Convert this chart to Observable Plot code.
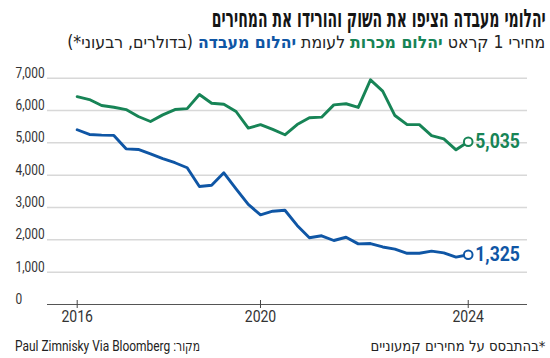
<!DOCTYPE html>
<html><head><meta charset="utf-8">
<script src="https://cdn.jsdelivr.net/npm/d3@7"></script>
<script src="https://cdn.jsdelivr.net/npm/@observablehq/plot@0.6"></script>
<style>
html,body{margin:0;padding:0;background:#fff;}
body{width:550px;height:358px;overflow:hidden;position:relative;font-family:Roboto,"DejaVu Sans Condensed","DejaVu Sans",sans-serif;color:#222;}
.fit{position:absolute;white-space:nowrap;line-height:1;direction:rtl;}
#title{right:4px;top:6px;font-family:"DejaVu Sans","DejaVu Sans Condensed",sans-serif;font-weight:bold;font-size:25px;color:#141414;transform-origin:right center;}
#subtitle{right:5px;top:34px;font-family:"DejaVu Sans Condensed","DejaVu Sans",sans-serif;font-size:17px;color:#222;transform-origin:right center;}
#subtitle .g{color:#178456;font-weight:bold;}
#subtitle .b{color:#0f56a5;font-weight:bold;}
#chart{position:absolute;left:0;top:56px;}
#source{left:15px;top:340px;font-family:Roboto,"DejaVu Sans Condensed",sans-serif;font-size:14.5px;color:#222;transform-origin:left center;}
#note{right:5px;top:339px;font-family:"DejaVu Sans Condensed","DejaVu Sans",sans-serif;font-size:14.5px;color:#222;transform-origin:right center;}
</style></head>
<body>
<div id="title" class="fit"></div>
<div id="subtitle" class="fit"></div>
<div id="chart"></div>
<div id="source" class="fit"></div>
<div id="note" class="fit"></div>
<script>
// Data (quarterly, USD per 1 carat)
const mined = [6430,6340,6155,6100,6030,5815,5660,5865,6030,6060,6495,6225,6195,5970,5455,5565,5415,5250,5565,5775,5795,6175,6210,6095,6950,6600,5845,5565,5565,5225,5125,4785,5035];
const lab   = [5405,5260,5240,5230,4815,4795,4660,4515,4385,4230,3650,3690,4075,3580,3095,2775,2885,2915,2445,2065,2125,1980,2080,1875,1885,1780,1715,1585,1585,1650,1595,1465,1540];
const xTickIndex = [0,15,32];
const xTickLabels = ["2016","2020","2024"];
const yTicks = [0,1000,2000,3000,4000,5000,6000,7000];
const endLabels = ["5,035","1,325"];
const titleText = "יהלומי מעבדה הציפו את השוק והורידו את המחירים";
const sourceText = "מקור: Paul Zimnisky Via Bloomberg";
const noteText = "*בהתבסס על מחירים קמעוניים";

const GREEN = "#178456", BLUE = "#0f56a5";

document.getElementById("title").textContent = titleText;
document.getElementById("subtitle").innerHTML = 'מחירי 1 קראט <span class="g">יהלום מכרות</span> לעומת <span class="b">יהלום מעבדה</span> (בדולרים, רבעוני*)';
document.getElementById("source").textContent = sourceText;
document.getElementById("note").textContent = noteText;

// squeeze texts horizontally to the condensed widths of the original
function fit(id, w){
  const el = document.getElementById(id);
  const cw = el.getBoundingClientRect().width;
  el.style.transform = `scaleX(${w/cw})`;
}
fit("title", 334); fit("subtitle", 478); fit("source", 185); fit("note", 175);

const rows = [];
mined.forEach((v,i)=>rows.push({i, v, s:"mined"}));
lab.forEach((v,i)=>rows.push({i, v, s:"lab"}));
const last = [
  {i: mined.length-1, v: mined[mined.length-1], s:"mined", label:endLabels[0]},
  {i: lab.length-1, v: lab[lab.length-1], s:"lab", label:endLabels[1]}
];
const color = s => s==="mined" ? GREEN : BLUE;

const chart = Plot.plot({
  width: 550,
  height: 276,
  marginLeft: 47,
  marginRight: 23,
  marginTop: 21.7,
  marginBottom: 28,
  style: {fontFamily: 'Roboto,"DejaVu Sans Condensed",sans-serif', background: "#fff"},
  x: {domain: [-2.43, 36.85], axis: null},
  y: {domain: [0, 7000], axis: null},
  marks: [
    Plot.ruleY(yTicks.filter(d=>d>0), {stroke:"#d8d8d8", strokeWidth:1.5}),
    Plot.ruleY([0], {stroke:"#555", strokeWidth:1.2}),
    Plot.ruleX(xTickIndex, {x: d=>d, y1: 0, y2: 0, insetTop: -4, insetBottom: -4, stroke:"#444", strokeWidth:1}),
    Plot.text(yTicks, {y: d=>d, text: d=>d3.format(",")(d), frameAnchor:"left", textAnchor:"start", dx:-32, dy:-5, fontSize:14, fill:"#333", className:"sq85"}),
    Plot.text(xTickIndex, {x: d=>d, text: (d,k)=>xTickLabels[k], frameAnchor:"bottom", dy:17, fontSize:16.5, fill:"#333", className:"sq85"}),
    Plot.line(rows, {x:"i", y:"v", z:"s", stroke: d=>color(d.s), strokeWidth:2.9, strokeLinejoin:"round"}),
    Plot.dot(last, {x:"i", y:"v", r:4.3, fill:"#fff", stroke: d=>color(d.s), strokeWidth:2}),
    Plot.text(last, {x:"i", y:"v", text:"label", textAnchor:"start", dx:7, fontSize:20, fontWeight:"bold", fill: d=>color(d.s), className:"sq88"})
  ]
});
// condense numeric labels horizontally (font styling)
chart.querySelectorAll("g.sq85 text").forEach(t=>t.setAttribute("transform", (t.getAttribute("transform")||"") + " scale(0.85,1)"));
chart.querySelectorAll("g.sq88 text").forEach(t=>t.setAttribute("transform", (t.getAttribute("transform")||"") + " scale(0.88,1)"));
document.getElementById("chart").appendChild(chart);
</script>
</body></html>
